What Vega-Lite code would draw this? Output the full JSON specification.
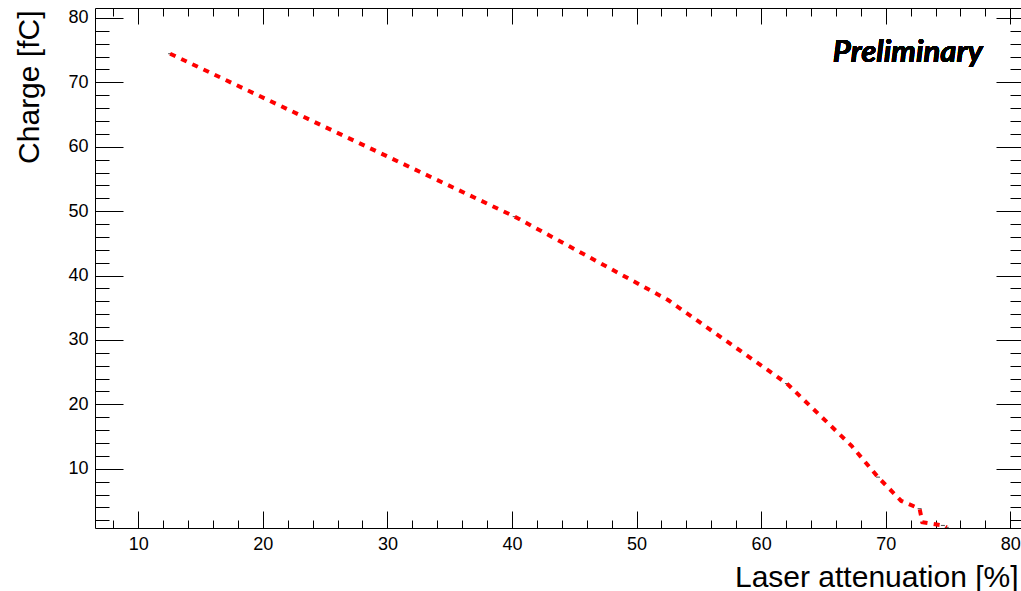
{
  "$schema": "https://vega.github.io/schema/vega-lite/v6.json",
  "width": 929,
  "height": 520,
  "autosize": "none",
  "padding": {"left": 95, "top": 8, "right": -3, "bottom": 63},
  "background": "white",
  "config": {"view": {"stroke": null}},
  "data": {"values": [
    {"x": 12.56, "y": 74.45},
    {"x": 40.22, "y": 49.15},
    {"x": 52.53, "y": 36.2},
    {"x": 62.07, "y": 23.23},
    {"x": 67.24, "y": 13.6},
    {"x": 69.38, "y": 8.7},
    {"x": 71.25, "y": 5.0},
    {"x": 72.72, "y": 3.8},
    {"x": 72.94, "y": 1.7},
    {"x": 74.59, "y": 1.2},
    {"x": 74.9, "y": 0.9}
  ]},
  "layer": [
    {
      "mark": {"type": "tick", "orient": "horizontal", "size": 4, "thickness": 1, "color": "#000000", "clip": true},
      "encoding": {
        "x": {"field": "x", "type": "quantitative",
          "scale": {"domain": [6.53, 81.1], "nice": false, "zero": false},
          "axis": {"orient": "top", "values": [8,10,12,14,16,18,20,22,24,26,28,30,32,34,36,38,40,42,44,46,48,50,52,54,56,58,60,62,64,66,68,70,72,74,76,78,80],
            "tickSize": {"condition": {"test": "datum.value % 10 === 0", "value": -16}, "value": -8},
            "labels": false, "title": null, "grid": false,
            "domainColor": "#000000", "domainWidth": 1, "tickColor": "#000000", "tickWidth": 1}},
        "y": {"field": "y", "type": "quantitative",
          "scale": {"domain": [0.8, 81.55], "nice": false, "zero": false},
          "axis": {"orient": "right", "values": [2,4,6,8,10,12,14,16,18,20,22,24,26,28,30,32,34,36,38,40,42,44,46,48,50,52,54,56,58,60,62,64,66,68,70,72,74,76,78,80],
            "tickSize": {"condition": {"test": "datum.value % 10 === 0", "value": -28}, "value": -14},
            "labels": false, "title": null, "grid": false,
            "domainColor": "#000000", "domainWidth": 1, "tickColor": "#000000", "tickWidth": 1}}
      }
    },
    {
      "mark": {"type": "line", "color": "#ff0000", "strokeWidth": 4, "strokeDash": [6, 6.3], "strokeCap": "butt", "clip": true},
      "encoding": {
        "x": {"field": "x", "type": "quantitative",
          "scale": {"domain": [6.53, 81.1], "nice": false, "zero": false},
          "axis": {"orient": "bottom", "values": [8,10,12,14,16,18,20,22,24,26,28,30,32,34,36,38,40,42,44,46,48,50,52,54,56,58,60,62,64,66,68,70,72,74,76,78,80],
            "tickSize": {"condition": {"test": "datum.value % 10 === 0", "value": -17}, "value": -8},
            "labelExpr": "datum.value % 10 === 0 ? datum.label : ''",
            "labelPadding": 24, "labelOverlap": false, "labelFlush": false,
            "labelFont": "Liberation Sans", "labelFontSize": 18, "labelColor": "#000000",
            "grid": false,
            "domainColor": "#000000", "domainWidth": 1, "tickColor": "#000000", "tickWidth": 1,
            "title": "Laser attenuation [%]", "titleFont": "Liberation Sans", "titleFontSize": 30,
            "titleFontWeight": "normal", "titleColor": "#000000", "titleAlign": "right", "titleAnchor": "end",
            "titleBaseline": "alphabetic", "titleX": 923, "titleY": 58}},
        "y": {"field": "y", "type": "quantitative",
          "scale": {"domain": [0.8, 81.55], "nice": false, "zero": false},
          "axis": {"orient": "left", "values": [2,4,6,8,10,12,14,16,18,20,22,24,26,28,30,32,34,36,38,40,42,44,46,48,50,52,54,56,58,60,62,64,66,68,70,72,74,76,78,80],
            "tickSize": {"condition": {"test": "datum.value % 10 === 0", "value": -28}, "value": -14},
            "labelExpr": "datum.value % 10 === 0 ? datum.label : ''",
            "labelPadding": 35, "labelOverlap": false, "labelFlush": false,
            "labelFont": "Liberation Sans", "labelFontSize": 18, "labelColor": "#000000",
            "grid": false,
            "domainColor": "#000000", "domainWidth": 1, "tickColor": "#000000", "tickWidth": 1,
            "title": "Charge [fC]", "titleFont": "Liberation Sans", "titleFontSize": 30,
            "titleFontWeight": "normal", "titleColor": "#000000", "titleAngle": -90, "titleAlign": "right",
            "titleAnchor": "end", "titleBaseline": "alphabetic", "titleX": -57, "titleY": 2}}
      }
    },
    {
      "mark": {"type": "text", "text": "Preliminary", "font": "Lato", "fontSize": 31, "fontWeight": "bold", "fontStyle": "italic", "align": "right", "baseline": "alphabetic", "color": "#000000"},
      "encoding": {
        "x": {"datum": 77.78, "type": "quantitative", "axis": null},
        "y": {"datum": 73.2, "type": "quantitative", "axis": null}
      }
    }
  ],
  "resolve": {"scale": {"x": "shared", "y": "shared"}, "axis": {"x": "independent", "y": "independent"}}
}
